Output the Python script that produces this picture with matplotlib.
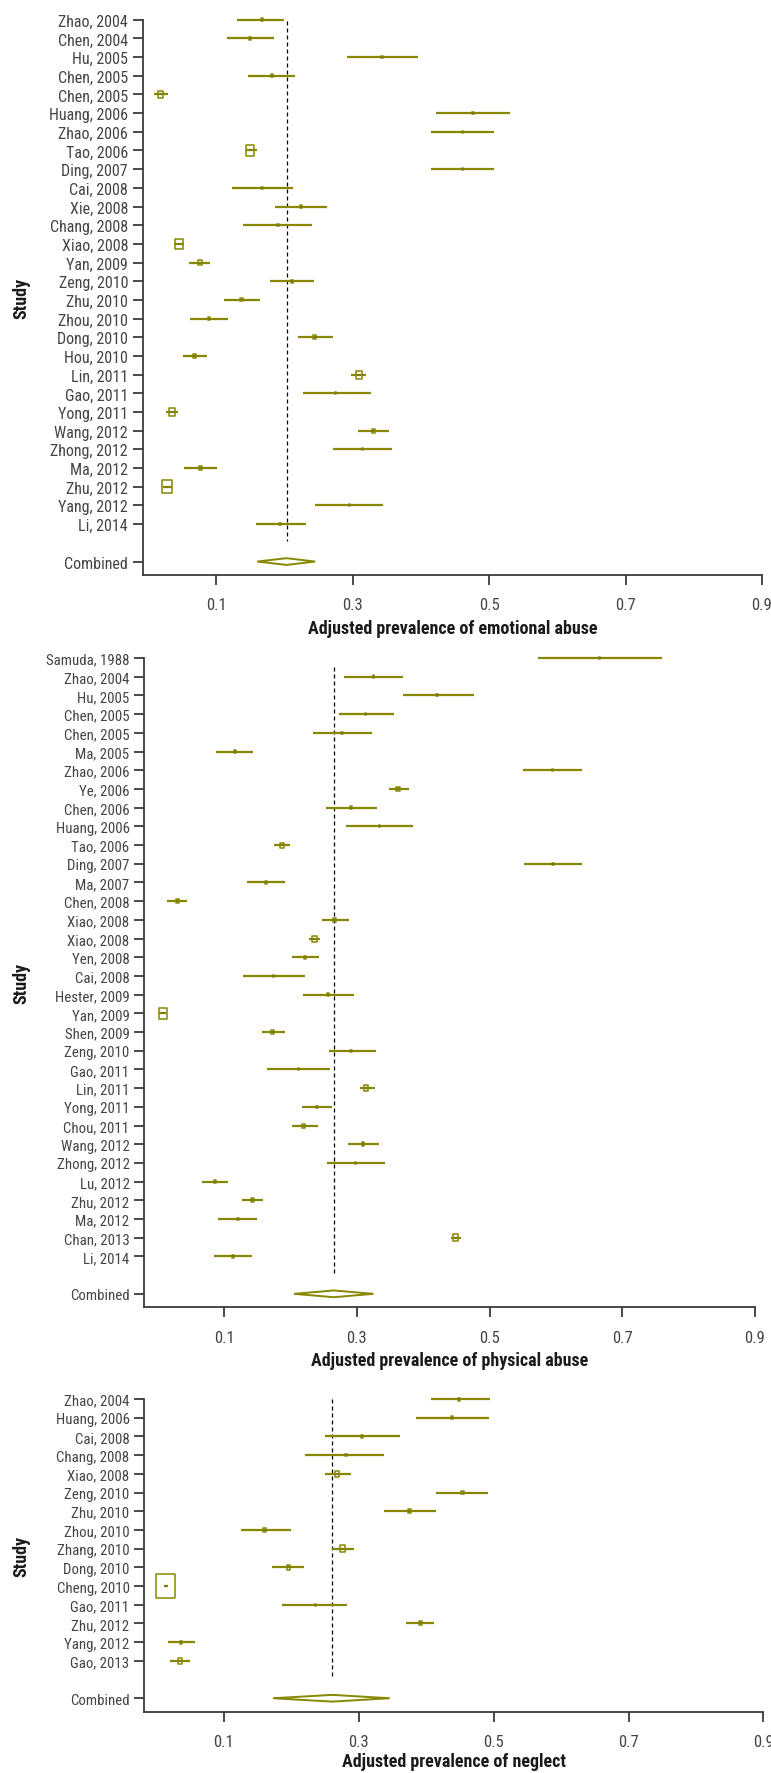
import matplotlib
matplotlib.use("Agg")
import matplotlib.pyplot as plt
from matplotlib import font_manager
from matplotlib.path import Path
import numpy as np

# --- fonts: the original uses a condensed sans, pick whatever narrow face exists ---
_fonts = font_manager.fontManager.ttflist
NARROW = None
for key in ("LiberationSansNarrow", "RobotoCondensed", "Roboto_Condensed",
            "OpenSans_Condensed", "OpenSansCondensed", "DejaVuSansCondensed"):
    hits = [f for f in _fonts if key.lower() in f.fname.replace("-", "").lower()]
    if hits:
        NARROW = hits[0].name
        break
if NARROW is None:
    NARROW = "DejaVu Sans"
CONDENSED = NARROW != "DejaVu Sans"
plt.rcParams["font.family"] = [NARROW, "DejaVu Sans"]
plt.rcParams["font.stretch"] = "condensed"

LABEL_SIZE = 11.5 if CONDENSED else 9.5

OLIVE = "#878700"
AXIS_GREY = "#3a3a3a"

# ---------------- emotional abuse ----------------
emo_study = ["Zhao, 2004", "Chen, 2004", "Hu, 2005", "Chen, 2005", "Chen, 2005",
             "Huang, 2006", "Zhao, 2006", "Tao, 2006", "Ding, 2007", "Cai, 2008",
             "Xie, 2008", "Chang, 2008", "Xiao, 2008", "Yan, 2009", "Zeng, 2010",
             "Zhu, 2010", "Zhou, 2010", "Dong, 2010", "Hou, 2010", "Lin, 2011",
             "Gao, 2011", "Yong, 2011", "Wang, 2012", "Zhong, 2012", "Ma, 2012",
             "Zhu, 2012", "Yang, 2012", "Li, 2014"]
emo_est = [0.167, 0.149, 0.343, 0.182, 0.018, 0.476, 0.461, 0.150, 0.461, 0.167,
           0.224, 0.190, 0.045, 0.076, 0.211, 0.137, 0.089, 0.244, 0.068, 0.309,
           0.275, 0.035, 0.330, 0.314, 0.077, 0.028, 0.295, 0.194]
emo_lo = [0.130, 0.116, 0.292, 0.147, 0.008, 0.422, 0.415, 0.143, 0.415, 0.123,
          0.186, 0.139, 0.038, 0.060, 0.179, 0.111, 0.062, 0.220, 0.051, 0.297,
          0.227, 0.026, 0.308, 0.271, 0.052, 0.022, 0.245, 0.158]
emo_hi = [0.200, 0.184, 0.396, 0.216, 0.029, 0.531, 0.507, 0.159, 0.507, 0.212,
          0.262, 0.241, 0.053, 0.091, 0.243, 0.164, 0.117, 0.271, 0.087, 0.320,
          0.327, 0.044, 0.353, 0.358, 0.101, 0.035, 0.345, 0.231]
emo_weight = [9, 9, 6, 9, 49, 4, 4, 110, 4, 6, 9, 6, 110, 30, 9, 9, 9, 16, 14, 60,
              4, 60, 16, 4, 16, 170, 4, 6]
emo_combined = (0.203, 0.160, 0.245)

# ---------------- physical abuse ----------------
phy_study = ["Samuda, 1988", "Zhao, 2004", "Hu, 2005", "Chen, 2005", "Chen, 2005",
             "Ma, 2005", "Zhao, 2006", "Ye, 2006", "Chen, 2006", "Huang, 2006",
             "Tao, 2006", "Ding, 2007", "Ma, 2007", "Chen, 2008", "Xiao, 2008",
             "Xiao, 2008", "Yen, 2008", "Cai, 2008", "Hester, 2009", "Yan, 2009",
             "Shen, 2009", "Zeng, 2010", "Gao, 2011", "Lin, 2011", "Yong, 2011",
             "Chou, 2011", "Wang, 2012", "Zhong, 2012", "Lu, 2012", "Zhu, 2012",
             "Ma, 2012", "Chan, 2013", "Li, 2014"]
phy_est = [0.666, 0.325, 0.421, 0.313, 0.277, 0.116, 0.595, 0.362, 0.291, 0.334,
           0.187, 0.596, 0.163, 0.029, 0.266, 0.236, 0.222, 0.174, 0.256, 0.007,
           0.173, 0.291, 0.212, 0.314, 0.240, 0.220, 0.309, 0.298, 0.086, 0.142,
           0.121, 0.449, 0.113]
phy_lo = [0.573, 0.281, 0.370, 0.273, 0.234, 0.088, 0.550, 0.348, 0.253, 0.284,
          0.175, 0.552, 0.134, 0.013, 0.248, 0.228, 0.202, 0.128, 0.219, 0.002,
          0.157, 0.258, 0.165, 0.305, 0.217, 0.202, 0.287, 0.255, 0.067, 0.127,
          0.090, 0.442, 0.085]
phy_hi = [0.760, 0.370, 0.477, 0.356, 0.323, 0.144, 0.640, 0.378, 0.331, 0.385,
          0.199, 0.640, 0.192, 0.043, 0.288, 0.245, 0.243, 0.221, 0.296, 0.012,
          0.192, 0.329, 0.259, 0.328, 0.263, 0.241, 0.333, 0.342, 0.105, 0.159,
          0.149, 0.457, 0.141]
phy_weight = [4, 6, 4, 6, 6, 9, 4, 20, 9, 4, 25, 4, 6, 16, 12, 36, 9, 4, 6, 110,
              12, 4, 4, 36, 6, 16, 12, 4, 12, 16, 4, 50, 6]
phy_combined = (0.265, 0.205, 0.325)

# ---------------- neglect ----------------
neg_study = ["Zhao, 2004", "Huang, 2006", "Cai, 2008", "Chang, 2008", "Xiao, 2008",
             "Zeng, 2010", "Zhu, 2010", "Zhou, 2010", "Zhang, 2010", "Dong, 2010",
             "Cheng, 2010", "Gao, 2011", "Zhu, 2012", "Yang, 2012", "Gao, 2013"]
neg_est = [0.449, 0.438, 0.305, 0.281, 0.268, 0.454, 0.375, 0.161, 0.276, 0.196,
           0.014, 0.236, 0.391, 0.037, 0.035]
neg_lo = [0.407, 0.385, 0.250, 0.220, 0.250, 0.414, 0.337, 0.125, 0.261, 0.171,
          0.012, 0.187, 0.370, 0.017, 0.021]
neg_hi = [0.495, 0.493, 0.361, 0.337, 0.289, 0.492, 0.414, 0.200, 0.293, 0.219,
          0.017, 0.283, 0.412, 0.058, 0.050]
neg_weight = [9, 9, 6, 6, 40, 9, 16, 16, 40, 25, 620, 4, 16, 9, 30]
neg_combined = (0.261, 0.173, 0.346)

# tall box marker (the original boxes come out slightly taller than wide)
BOX = Path([(-0.375, -0.5), (0.375, -0.5), (0.375, 0.5), (-0.375, 0.5), (-0.375, -0.5)],
           [Path.MOVETO, Path.LINETO, Path.LINETO, Path.LINETO, Path.CLOSEPOLY])


def forest(ax, studies, est, lo, hi, weight, combined, xlim, xlabel, dash_start=0.0,
           xlabel_pad=5, ysize=LABEL_SIZE):
    n = len(studies)
    rows = np.arange(n)
    comb_row = n + 1

    ax.hlines(rows, lo, hi, color=OLIVE, linewidth=1.6, zorder=3, clip_on=False)
    side_pt = np.sqrt(np.array(weight, dtype=float)) * 0.72
    ax.scatter(est, rows, s=side_pt ** 2, marker=BOX, facecolors="none",
               edgecolors=OLIVE, linewidths=1.1, zorder=4, clip_on=False)
    ax.scatter(est, rows, s=3.5, marker="s", color="#7a7a00", linewidths=0,
               zorder=5, clip_on=False)

    c_est, c_lo, c_hi = combined
    h = 0.18
    ax.fill([c_lo, c_est, c_hi, c_est, c_lo], [comb_row, comb_row - h, comb_row, comb_row + h, comb_row],
            facecolor="none", edgecolor=OLIVE, linewidth=1.4, zorder=4)

    ax.vlines(c_est, dash_start, n - 1 + 0.92, color="black", linewidth=0.9,
              linestyles=(0, (3.2, 2.4)), zorder=2)

    ax.set_yticks(list(rows) + [comb_row])
    ax.set_yticklabels(studies + ["Combined"])
    ax.set_ylim(comb_row + 0.72, 0)
    ax.set_xlim(*xlim)
    ax.set_xticks([0.1, 0.3, 0.5, 0.7, 0.9])
    ax.set_xticklabels(["0.1", "0.3", "0.5", "0.7", "0.9"])

    for s in ("top", "right"):
        ax.spines[s].set_visible(False)
    for s in ("left", "bottom"):
        ax.spines[s].set_color(AXIS_GREY)
        ax.spines[s].set_linewidth(1.3)
    ax.tick_params(axis="both", direction="out", length=7, width=1.3,
                   color=AXIS_GREY, labelcolor="#444444")
    ax.tick_params(axis="y", labelsize=ysize)
    ax.tick_params(axis="x", pad=9, labelsize=LABEL_SIZE + 0.5)
    ax.set_xlabel(xlabel, fontsize=LABEL_SIZE + 1.5, fontweight="bold", color="#1a1a1a",
                  labelpad=xlabel_pad)


W, H = 771, 1774
fig = plt.figure(figsize=(W / 100, H / 100), dpi=100)


def add_axes(left_px, right_px, top_px, bottom_px):
    return fig.add_axes([left_px / W, 1 - bottom_px / H,
                         (right_px - left_px) / W, (bottom_px - top_px) / H])


ax1 = add_axes(142.6, 762.0, 20.7, 576.0)
forest(ax1, emo_study, emo_est, emo_lo, emo_hi, emo_weight, emo_combined,
       (-0.008, 0.9), "Adjusted prevalence of emotional abuse", dash_start=0.05)

ax2 = add_axes(144.1, 754.7, 659.0, 1308.3)
forest(ax2, phy_study, phy_est, phy_lo, phy_hi, phy_weight, phy_combined,
       (-0.021, 0.9), "Adjusted prevalence of physical abuse", dash_start=0.5,
       ysize=LABEL_SIZE - 0.8)

ax3 = add_axes(144.1, 763.5, 1400.0, 1712.7)
forest(ax3, neg_study, neg_est, neg_lo, neg_hi, neg_weight, neg_combined,
       (-0.018, 0.9), "Adjusted prevalence of neglect", dash_start=0.0, xlabel_pad=2,
       ysize=LABEL_SIZE - 0.8)

for top_px, bottom_px in [(20.7, 576.0), (659.0, 1308.3), (1400.0, 1712.7)]:
    fig.text(21 / W, 1 - (top_px + bottom_px) / 2 / H, "Study", rotation=90,
             ha="center", va="center", fontsize=LABEL_SIZE + 1.5, fontweight="bold",
             color="#1a1a1a")

fig.savefig("out.png", dpi=100)
